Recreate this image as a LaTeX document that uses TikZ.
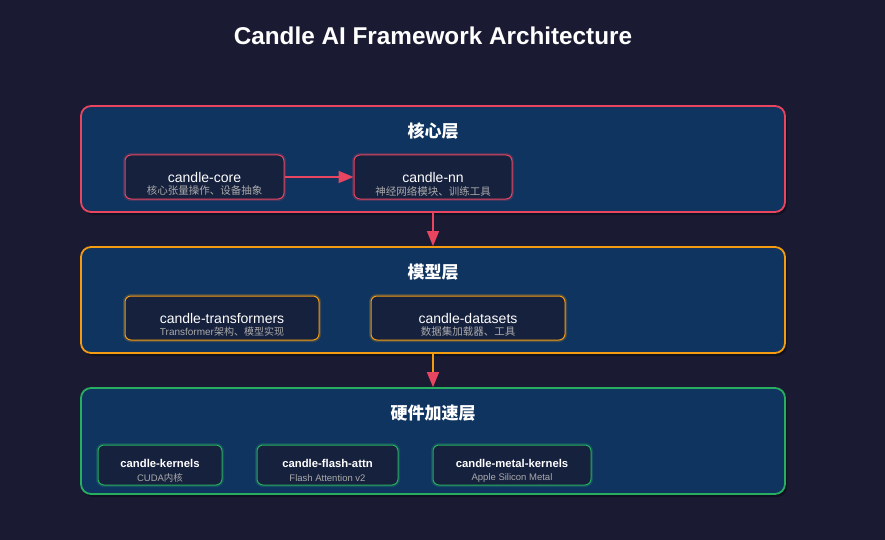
\documentclass[tikz,border=0pt]{standalone}
\usepackage{fontspec}
\setmainfont{Liberation Sans}
\newfontfamily\cjk{Noto Sans CJK SC}
\usetikzlibrary{arrows.meta, calc, shadows}

\definecolor{bgdark}{HTML}{1A1B33}
\definecolor{layerblue}{HTML}{0F3460}
\definecolor{boxdark}{HTML}{16213E}
\definecolor{corered}{HTML}{E94560}
\definecolor{modelorange}{HTML}{F39C12}
\definecolor{hwgreen}{HTML}{27AE60}
\definecolor{subgray}{HTML}{AAAAAA}

\tikzset{
	layer/.style={draw=#1, line width=1.8pt, fill=layerblue, rounded corners=10pt,
		minimum width=704pt, minimum height=106pt, inner sep=0pt,
		drop shadow={shadow xshift=2pt, shadow yshift=-3pt, opacity=0.35, fill=black}},
	comp/.style={draw=#1, line width=1pt, fill=boxdark, rounded corners=6pt,
		minimum height=44pt, inner sep=0pt, text=white, font=\fontsize{14}{14}\selectfont,
		preaction={draw=#1, line width=4pt, opacity=0.22}},
	layertitle/.style={text=white, font=\bfseries\cjk\fontsize{17}{17}\selectfont},
	sub/.style={text=subgray, font=\fontsize{9.5}{9.5}\selectfont, inner sep=0pt},
	cjksub/.style={sub, font=\cjk\fontsize{10.5}{10.5}\selectfont},
	hwcomp/.style={comp=#1, minimum height=40pt, font=\bfseries\fontsize{11.3}{11.3}\selectfont},
	link/.style={line width=1.5pt, draw=#1, -{Triangle[length=15pt, width=12pt, color=corered]}}
}

\begin{document}
\begin{tikzpicture}[x=1pt, y=-1pt]
	\fill[bgdark] (0,0) rectangle (885,540);
	\useasboundingbox (0,0) rectangle (885,540);
	
	\node[text=white, font=\bfseries\fontsize{24.3}{24.3}\selectfont] (title) at (433,36) {Candle AI Framework Architecture};
	
	% layers
	\node[layer=corered] (core) at (433,159) {};
	\node[layer=modelorange] (model) at (433,300) {};
	\node[layer=hwgreen] (hw) at (433,441) {};
	
	\node[layertitle] (coretitle) at (433,131) {核心层};
	\node[layertitle] (modeltitle) at (433,272) {模型层};
	\node[layertitle] (hwtitle) at (433,413) {硬件加速层};
	
	% core layer
	\node[comp=corered, minimum width=159pt] (candlecore) at (204.5,177) {candle-core};
	\node[comp=corered, minimum width=158pt] (candlenn) at (433,177) {candle-nn};
	\node[cjksub] at ($(candlecore.center)+(0,14)$) {核心张量操作、设备抽象};
	\node[cjksub] at ($(candlenn.center)+(0,14)$) {神经网络模块、训练工具};
	
	% model layer
	\node[comp=modelorange, minimum width=194pt] (transformers) at (222,318) {candle-transformers};
	\node[comp=modelorange, minimum width=194pt] (datasets) at (468,318) {candle-datasets};
	\node[sub, font=\fontsize{10}{10}\selectfont] at ($(transformers.center)+(0,14)$) {Transformer{\cjk 架构、模型实现}};
	\node[cjksub] at ($(datasets.center)+(0,14)$) {数据集加载器、工具};
	
	% hardware layer
	\node[hwcomp=hwgreen, minimum width=124pt] (kernels) at (160,465) {\raisebox{3pt}{candle-kernels}};
	\node[hwcomp=hwgreen, minimum width=141pt] (flash) at (327.5,465) {\raisebox{3pt}{candle-flash-attn}};
	\node[hwcomp=hwgreen, minimum width=158pt] (metal) at (512,465) {\raisebox{3pt}{candle-metal-kernels}};
	\node[sub] at ($(kernels.center)+(0,13)$) {CUDA{\cjk 内核}};
	\node[sub] at ($(flash.center)+(0,13)$) {Flash Attention v2};
	\node[sub] at ($(metal.center)+(0,13)$) {Apple Silicon Metal};
	
	% connections
	\draw[link=corered] (candlecore) -- (candlenn);
	\draw[link=corered] (core) -- (model);
	\draw[link=modelorange] (model) -- (hw);
\end{tikzpicture}
\end{document}
